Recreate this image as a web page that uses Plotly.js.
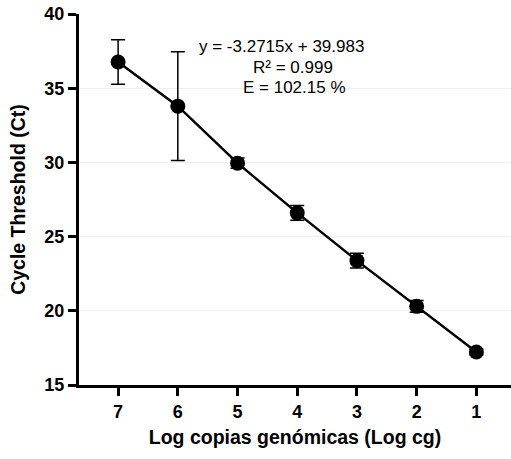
<!DOCTYPE html>
<html>
<head>
<meta charset="utf-8">
<script src="https://cdn.plot.ly/plotly-3.0.1.min.js"></script>
<style>html,body{margin:0;padding:0;background:#fff;}#chart{width:511px;height:459px;}</style>
</head>
<body>
<div id="chart"></div>
<script>
const logCopies = [7, 6, 5, 4, 3, 2, 1];
const ctMean = [36.77, 33.79, 29.95, 26.6, 23.38, 20.3, 17.22];
const ctError = [1.5, 3.67, 0.35, 0.5, 0.5, 0.4, 0.2];
const xTickVals = [7, 6, 5, 4, 3, 2, 1];
const yTickVals = [15, 20, 25, 30, 35, 40];
const eqLines = ["y = -3.2715x + 39.983", "R² = 0.999", "E = 102.15 %"];

const trace = {
  x: logCopies,
  y: ctMean,
  type: 'scatter',
  mode: 'lines+markers',
  line: {color: '#000', width: 2.5},
  marker: {color: '#000', size: 15},
  error_y: {type: 'data', array: ctError, visible: true, color: '#000', thickness: 1.5, width: 7},
  showlegend: false,
  hoverinfo: 'skip'
};

const fam = 'Liberation Sans, Arial, sans-serif';
const annFont = {family: fam, size: 17, color: '#000', weight: 400};
const tickFont = {family: fam, size: 18, color: '#000', weight: 700};
const layout = {
  width: 511, height: 459,
  margin: {l: 79, r: 0, t: 14, b: 74},
  paper_bgcolor: '#fff', plot_bgcolor: '#fff',
  font: {family: fam, color: '#000'},
  xaxis: {
    range: [7.655, 0.42],
    tickvals: xTickVals,
    ticktext: xTickVals.map(String),
    showgrid: false, zeroline: false,
    showline: true, linecolor: '#000', linewidth: 3,
    ticks: 'outside', ticklen: 8, tickwidth: 3, tickcolor: '#000',
    tickfont: tickFont,
    title: {text: 'Log copias genómicas (Log cg)', font: {family: fam, size: 19.5, color: '#000', weight: 700}, standoff: 10}
  },
  yaxis: {
    range: [15, 40],
    tickvals: yTickVals,
    ticktext: yTickVals.map(String),
    showgrid: true, gridcolor: '#efefef', gridwidth: 1,
    zeroline: false,
    showline: true, linecolor: '#000', linewidth: 3,
    ticks: 'outside', ticklen: 8, tickwidth: 3, tickcolor: '#000',
    tickfont: tickFont,
    title: {text: 'Cycle Threshold (Ct)', font: {family: fam, size: 19.5, color: '#000', weight: 700}, standoff: 14}
  },
  annotations: [
    {xref: 'paper', yref: 'paper', x: (281 - 79) / 432, y: (384 - 46) / 370, text: eqLines[0], showarrow: false, xanchor: 'center', yanchor: 'middle', font: annFont},
    {xref: 'paper', yref: 'paper', x: (293 - 79) / 432, y: (384 - 67) / 370, text: eqLines[1], showarrow: false, xanchor: 'center', yanchor: 'middle', font: annFont},
    {xref: 'paper', yref: 'paper', x: (294 - 79) / 432, y: (384 - 87) / 370, text: eqLines[2], showarrow: false, xanchor: 'center', yanchor: 'middle', font: annFont}
  ]
};

Plotly.newPlot('chart', [trace], layout, {staticPlot: true, displayModeBar: false});
</script>
</body>
</html>
